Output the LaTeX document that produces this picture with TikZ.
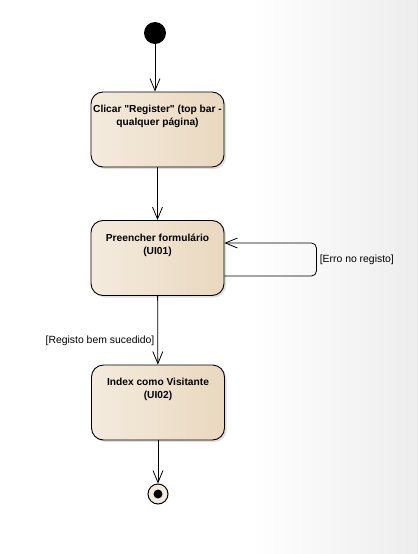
\documentclass[tikz,border=0pt]{standalone}
\usepackage{fontspec}
\setmainfont{Liberation Sans}
\usetikzlibrary{arrows.meta,shadows}
\definecolor{stateleft}{HTML}{F4EBDE}
\definecolor{statemid}{HTML}{F8F1E8}
\definecolor{stateright}{HTML}{EAD8BF}
\definecolor{endfill}{HTML}{F3EBDF}
\begin{document}
\begin{tikzpicture}[x=1pt,y=1pt]
\tikzstyle{state}=[draw=black, line width=0.9pt, rounded corners=12pt, minimum width=133pt, minimum height=75pt, left color=stateleft, middle color=statemid, right color=stateright, drop shadow={opacity=0.25, shadow xshift=2pt, shadow yshift=-2pt}]
\tikzstyle{statetext}=[font=\fontsize{10.2}{13}\selectfont\bfseries, align=center, anchor=north, yshift=-10pt]
\tikzstyle{flow}=[draw=black, line width=0.8pt, -{Straight Barb[length=12pt,width=10pt]}]
\tikzstyle{guard}=[font=\fontsize{10.4}{12}\selectfont, inner sep=3pt]
% background
\fill[white] (0,0) rectangle (250,-554);
\shade[left color=white, right color=black!7] (250,0) rectangle (418,-554);
\useasboundingbox (0,0) rectangle (418,-554);
% nodes
\node[circle, fill=black, minimum size=22pt, inner sep=0pt] (start) at (155,-33) {};
\node[state, label={[statetext]north:{Clicar \textquotedbl Register\textquotedbl\ (top bar -\\qualquer página)}}] (click) at (157.5,-129.5) {};
\node[state, label={[statetext]north:{Preencher formulário\\(UI01)}}] (form) at (157.5,-258) {};
\node[state, label={[statetext]north:{Index como Visitante\\(UI02)}}] (index) at (158,-402.5) {};
\node[circle, draw=black, line width=1pt, fill=endfill, minimum size=20pt, inner sep=0pt,
  path picture={\fill[black] (path picture bounding box.center) circle (4.5pt);}] (end) at (158,-494) {};
% connectors
\draw[flow] (start) -- (click.north -| start);
\draw[flow] (click) -- (form);
\draw[flow] (form) -- node[guard, left, pos=0.66] {[Registo bem sucedido]} (index);
\draw[flow] (index) -- (end);
\draw[flow, rounded corners=5pt] ([yshift=-18pt]form.east) -- ++(92,0) |- ([yshift=15pt]form.east)
  node[guard, right, pos=0.25] {[Erro no registo]};
\end{tikzpicture}
\end{document}
